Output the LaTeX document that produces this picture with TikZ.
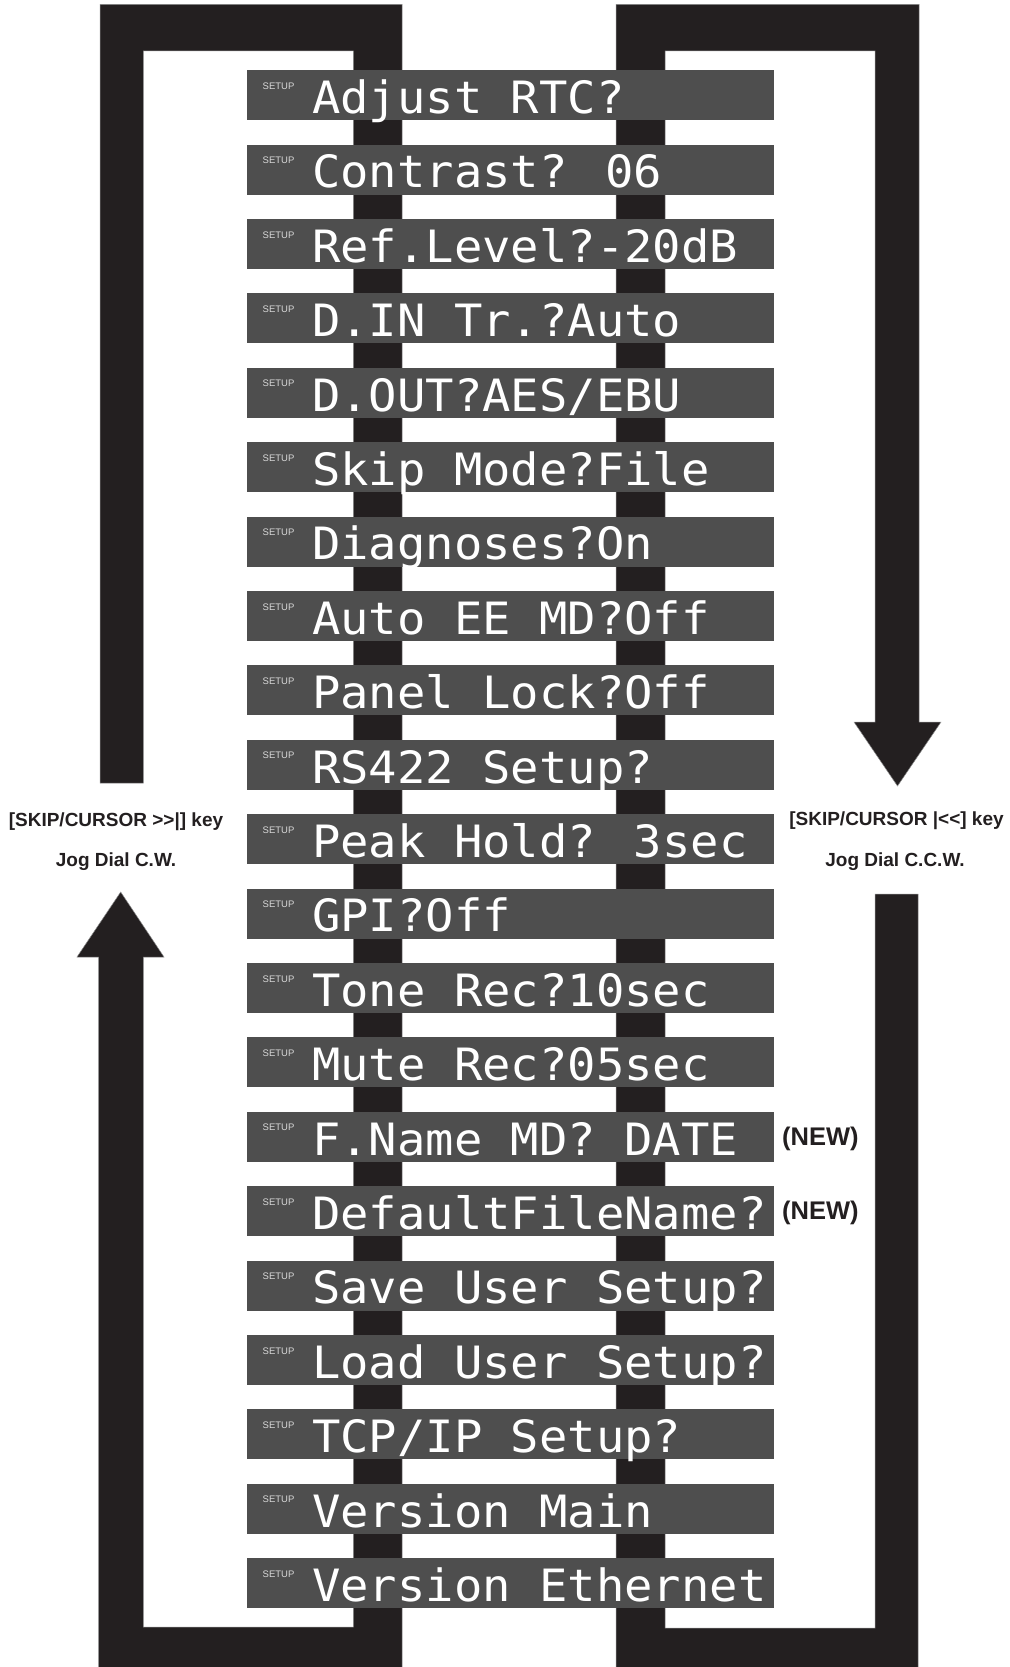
\documentclass[tikz,border=0pt]{standalone}
\usepackage{fontspec}
\setmainfont{Liberation Sans}
\newfontfamily\lcdfont[FakeStretch=1.06]{DejaVu Sans Mono}
\definecolor{framec}{HTML}{231F20}
\definecolor{lcdbg}{HTML}{4E4E4E}
\definecolor{setupc}{HTML}{D8D8D8}
\tikzset{
  frameshape/.style={fill=framec, draw=black!45, line width=0.5pt},
  lcdbox/.style={rectangle, fill=lcdbg, draw=none, minimum width=527.5pt, minimum height=50pt, inner sep=0pt, anchor=north west},
  setuptag/.style={font=\fontsize{9.5}{9.5}\selectfont, text=setupc, inner sep=0pt, anchor=west},
  lcdtext/.style={font=\lcdfont\fontsize{44.5}{44.5}\selectfont, text=white, inner sep=0pt, anchor=base west},
  keylabel/.style={font=\bfseries\fontsize{19}{19}\selectfont, text=framec, inner sep=0pt, anchor=base},
  newtag/.style={font=\bfseries\fontsize{25.5}{25.5}\selectfont, text=framec, inner sep=0pt, anchor=base west},
}
\begin{document}
\begin{tikzpicture}[x=1pt,y=-1pt]
\useasboundingbox (0,0) rectangle (1009,1667);
\fill[white] (0,0) rectangle (1009,1667);
% left loop (C.W.)
\path[frameshape] (100,4.3) -- (402,4.3) -- (402,1672) -- (98.5,1672) -- (98.5,957)
  -- (77,957) -- (120.7,892) -- (164,957) -- (143.3,957) -- (143.3,1627)
  -- (353.3,1627) -- (353.3,51) -- (143.3,51) -- (143.3,783) -- (100,783) -- cycle;
% right loop (C.C.W.)
\path[frameshape] (616,4.3) -- (919,4.3) -- (919,722) -- (941,722) -- (897.5,786)
  -- (854,722) -- (875,722) -- (875,51) -- (665,51) -- (665,1628) -- (875,1628)
  -- (875,894) -- (918,894) -- (918,1672) -- (616,1672) -- cycle;
% LCD menu items
\foreach \t [count=\i from 1] in {Adjust RTC?,Contrast? 06,Ref.Level?-20dB,D.IN Tr.?Auto,D.OUT?AES/EBU,Skip Mode?File,Diagnoses?On,Auto EE MD?Off,Panel Lock?Off,RS422 Setup?,Peak Hold? 3sec,GPI?Off,Tone Rec?10sec,Mute Rec?05sec,F.Name MD? DATE,DefaultFileName?,Save User Setup?,Load User Setup?,TCP/IP Setup?,Version Main,Version Ethernet}{
  \node[lcdbox] (b\i) at (246.5,{70+74.4*(\i-1)}) {};
  \node[setuptag] (s\i) at (262.5,{86+74.4*(\i-1)}) {SETUP};
  \node[lcdtext] (t\i) at (312,{113.5+74.4*(\i-1)}) {\t};
}
\node[newtag] (n15) at (782,{1111.6+33.6}) {(NEW)};
\node[newtag] (n16) at (782,{1186+33.6}) {(NEW)};
% key labels
\node[keylabel] (kl) at (116,826) {[SKIP/CURSOR {>}{>}|] key};
\node[keylabel] (jl) at (116,866) {Jog Dial C.W.};
\node[keylabel] (kr) at (896.5,825.5) {[SKIP/CURSOR |{<}{<}] key};
\node[keylabel] (jr) at (895,866) {Jog Dial C.C.W.};
\end{tikzpicture}
\end{document}
